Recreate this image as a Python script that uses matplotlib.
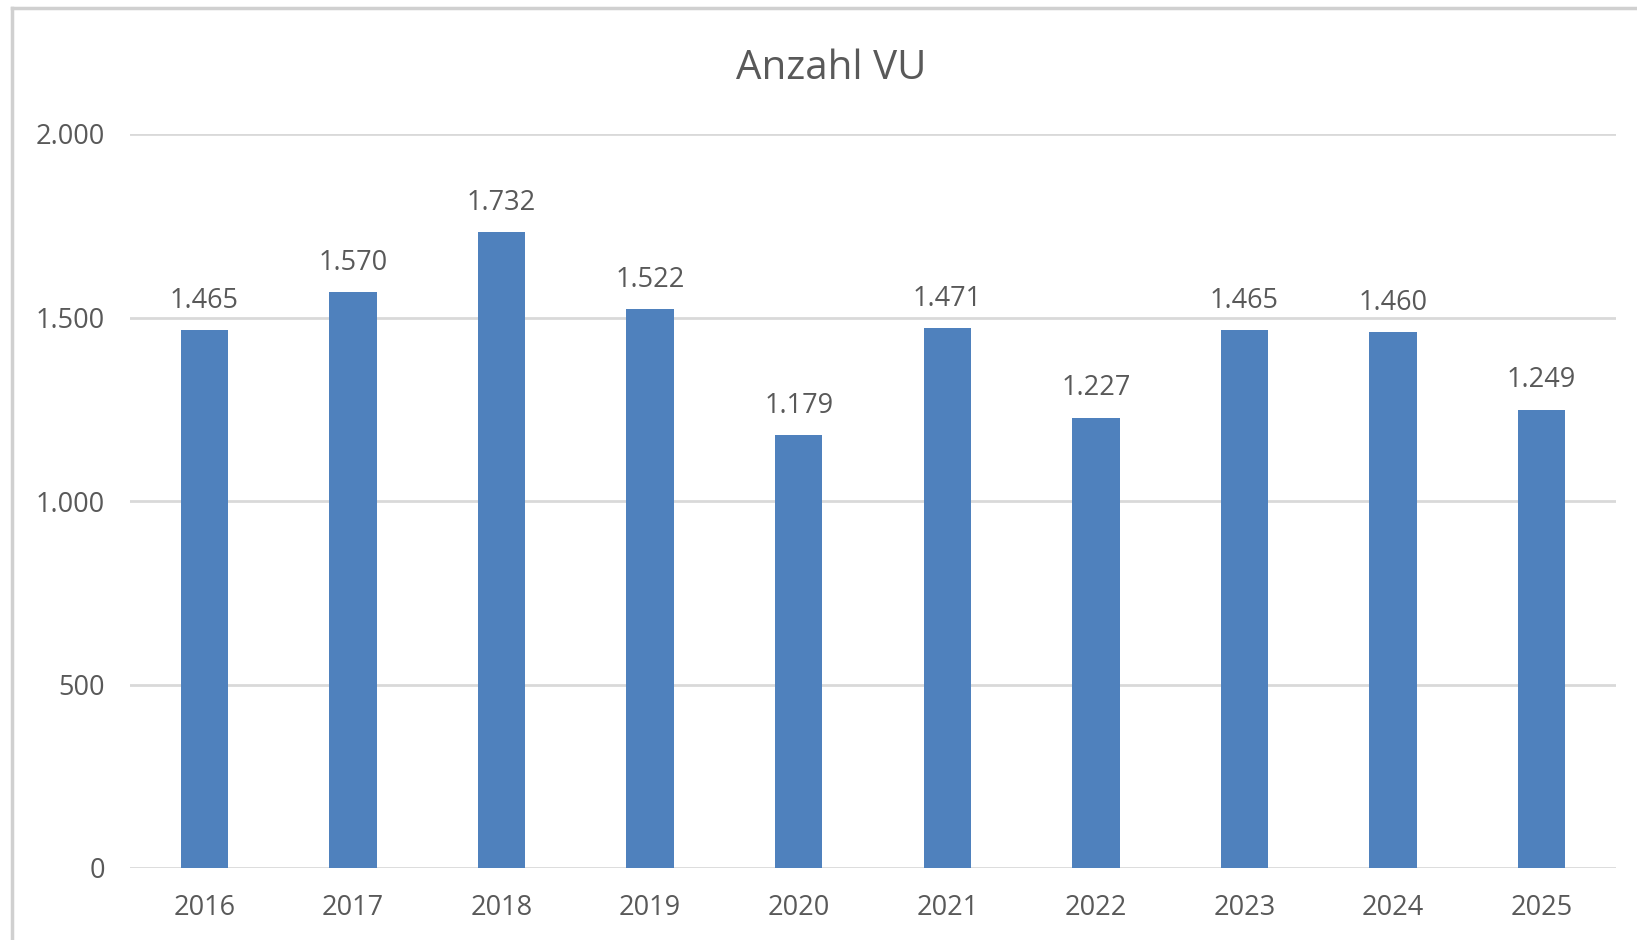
import matplotlib.pyplot as plt
from matplotlib.lines import Line2D
from matplotlib.ticker import FuncFormatter

# Anzahl VU pro Jahr
years = ['2016', '2017', '2018', '2019', '2020', '2021', '2022', '2023', '2024', '2025']
counts = [1465, 1570, 1732, 1522, 1179, 1471, 1227, 1465, 1460, 1249]
y_ticks = [0, 500, 1000, 1500, 2000]

def de_fmt(v, pos=None):
    return f'{int(v):,}'.replace(',', '.')

plt.rcParams['font.family'] = ['Open Sans', 'DejaVu Sans']
text_col = '#595959'

fig = plt.figure(figsize=(16.37, 9.40), dpi=100)
W, H = 1637, 940
ax = fig.add_axes([130 / W, 1 - 868 / H, (1616 - 130) / W, (868 - 134) / H])

x = range(len(years))
bars = ax.bar(x, counts, width=0.32, color='#4F81BD', zorder=3)

for b, v in zip(bars, counts):
    ax.annotate(de_fmt(v), (b.get_x() + b.get_width() / 2, v),
                xytext=(0, 11), textcoords='offset points',
                ha='center', va='bottom', fontsize=19.5, color=text_col)

ax.set_xlim(-0.5, len(years) - 0.5)
ax.set_ylim(0, 2000)
ax.set_yticks(y_ticks)
ax.yaxis.set_major_formatter(FuncFormatter(de_fmt))
ax.set_xticks(list(x))
ax.set_xticklabels(years)
ax.tick_params(axis='both', length=0, labelsize=19.5, labelcolor=text_col)
ax.tick_params(axis='y', pad=18)
ax.tick_params(axis='x', pad=19)
ax.grid(axis='y', color='#D9D9D9', linewidth=2, zorder=0)
for s in ax.spines.values():
    s.set_visible(False)

fig.text(831 / W, 1 - 69 / H, 'Anzahl VU', ha='center', va='center',
         fontsize=29, color=text_col)

# Rahmen des Diagrammbereichs (links und oben sichtbar)
fig.add_artist(Line2D([12 / W, 12 / W], [0, 1 - 8 / H], color='#D0D0D0', linewidth=2.5,
                      transform=fig.transFigure))
fig.add_artist(Line2D([12 / W, 1], [1 - 8 / H, 1 - 8 / H], color='#D0D0D0', linewidth=2.5,
                      transform=fig.transFigure))

fig.savefig('out.png', dpi=100)
